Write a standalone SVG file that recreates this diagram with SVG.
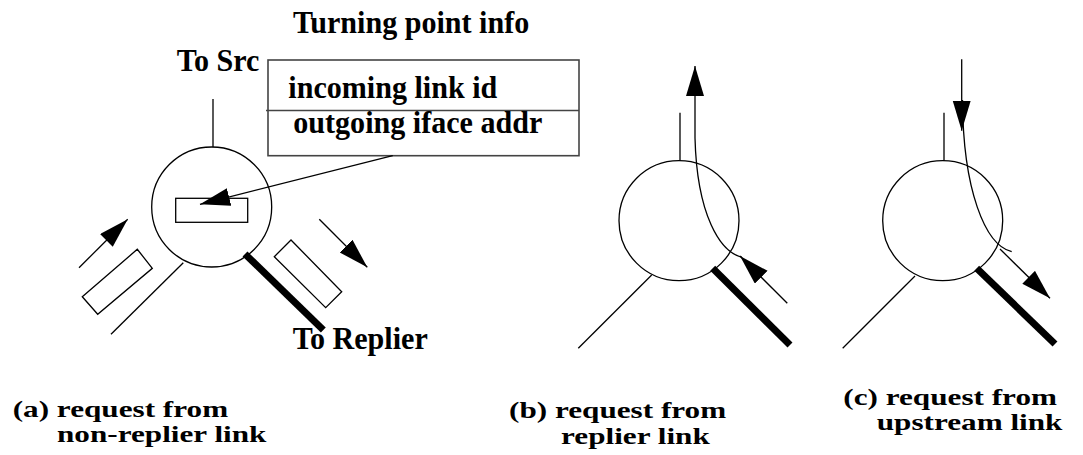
<svg xmlns="http://www.w3.org/2000/svg" width="1083" height="455" viewBox="0 0 1083 455">
<style>
.ln{fill:none;stroke:#000;stroke-width:1.3}
.thick{fill:none;stroke:#000;stroke-width:7}
.box{fill:none;stroke:#444;stroke-width:1.6}
.t{font-family:"Liberation Serif","Times New Roman",serif;font-weight:bold;font-size:32px;fill:#000}
.cap{font-family:"Liberation Serif","Times New Roman",serif;font-weight:bold;font-size:24px;fill:#000}
</style>
<defs>
<marker id="ah" markerUnits="userSpaceOnUse" markerWidth="32" markerHeight="20" refX="30" refY="9" orient="auto">
<path d="M0,0 L30,9 L0,18 z" fill="#000"/>
</marker>
</defs>
<rect width="1083" height="455" fill="#fff"/>

<g id="node-a">
<line class="ln" x1="213" y1="99" x2="213" y2="147"/>
<circle class="ln" cx="211.7" cy="207" r="60"/>
<rect class="ln" x="175.7" y="198.3" width="72" height="24"/>
<line class="ln" x1="183.3" y1="262.7" x2="111" y2="334.3"/>
<line class="thick" x1="245" y1="254" x2="323.3" y2="330"/>
<polygon class="ln" points="82.3,296.7 137.3,249.3 152.3,268.3 97.7,314.3"/>
<polygon class="ln" points="274.3,256.7 291,240 341.7,291.7 325.7,307.7"/>
<g transform="translate(176.7,71) scale(0.94,1)"><text class="t" x="0" y="0">To Src</text></g>
<g transform="translate(292.7,349.3) scale(0.94,1)"><text class="t" x="0" y="0">To Replier</text></g>
</g>

<g id="node-info">
<g transform="translate(293,33.3) scale(0.94,1)"><text class="t" x="0" y="0">Turning point info</text></g>
<rect class="box" x="268" y="60" width="311" height="95.7"/>
<line class="box" x1="266" y1="110.5" x2="579" y2="110.5"/>
<g transform="translate(288.3,98.3) scale(0.94,1)"><text class="t" x="0" y="0">incoming link id</text></g>
<g transform="translate(293.3,133.3) scale(0.94,1)"><text class="t" x="0" y="0">outgoing iface addr</text></g>
</g>

<g id="node-b">
<line class="ln" x1="680" y1="112.7" x2="680" y2="160.7"/>
<circle class="ln" cx="679" cy="220.7" r="60"/>
<line class="ln" x1="651.7" y1="275" x2="578.3" y2="348.3"/>
<line class="thick" x1="712.7" y1="268.3" x2="790" y2="345"/>
</g>

<g id="node-c">
<line class="ln" x1="944" y1="112.7" x2="944" y2="160.7"/>
<circle class="ln" cx="942.7" cy="220.7" r="60"/>
<line class="ln" x1="915" y1="276" x2="842.7" y2="348.3"/>
<line class="thick" x1="976.7" y1="268.3" x2="1055" y2="344"/>
</g>

<g id="connectors">
<line class="ln" x1="392.7" y1="155.7" x2="200" y2="204.3" marker-end="url(#ah)"/>
<line class="ln" x1="79" y1="267.7" x2="127.7" y2="219.3" marker-end="url(#ah)"/>
<line class="ln" x1="319.3" y1="219.3" x2="367.3" y2="267.3" marker-end="url(#ah)"/>
<path class="ln" d="M742,257.3 C720,252 697,215 695,138 L695,66" marker-end="url(#ah)"/>
<line class="ln" x1="787.3" y1="303.3" x2="740" y2="256" marker-end="url(#ah)"/>
<path class="ln" d="M961.7,59.3 L961.7,130.7" marker-end="url(#ah)"/>
<path class="ln" d="M962.5,100 C963,190 985,245 1011.7,251.7"/>
<line class="ln" x1="1000" y1="249" x2="1050" y2="298.3" marker-end="url(#ah)"/>
</g>

<g id="captions">
<g transform="translate(12.7,417) scale(1.3,1)"><text class="cap" x="0" y="0">(a) request from</text></g>
<g transform="translate(57,442) scale(1.3,1)"><text class="cap" x="0" y="0">non-replier link</text></g>
<g transform="translate(509,418) scale(1.3,1)"><text class="cap" x="0" y="0">(b) request from</text></g>
<g transform="translate(561,444) scale(1.3,1)"><text class="cap" x="0" y="0">replier link</text></g>
<g transform="translate(843.3,405) scale(1.3,1)"><text class="cap" x="0" y="0">(c) request from</text></g>
<g transform="translate(876.7,430) scale(1.3,1)"><text class="cap" x="0" y="0">upstream link</text></g>
</g>
</svg>
